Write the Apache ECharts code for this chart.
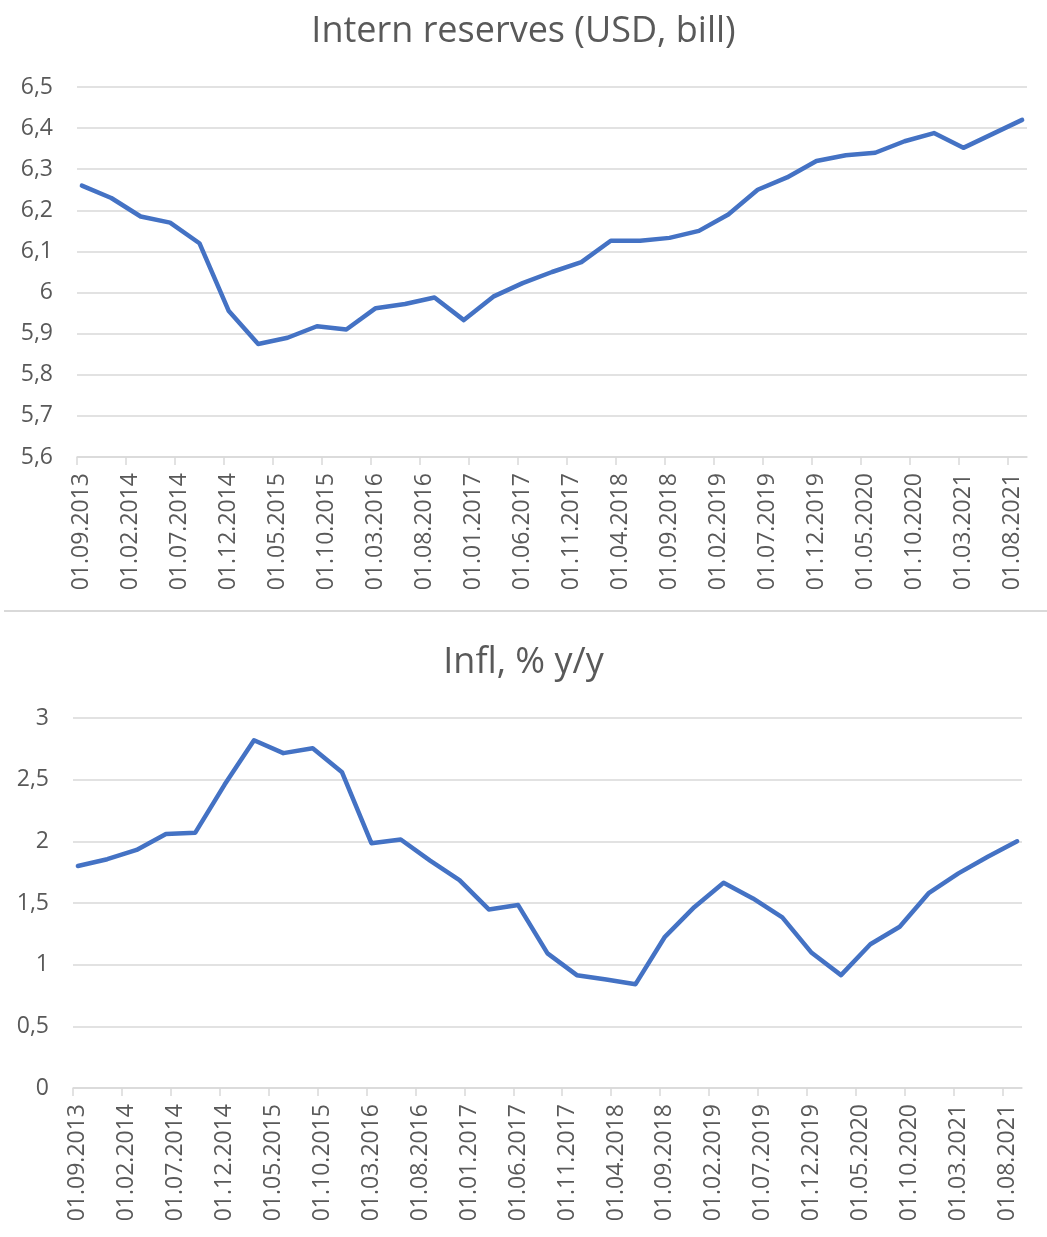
<!DOCTYPE html>
<html>
<head>
<meta charset="utf-8">
<script src="https://cdn.jsdelivr.net/npm/echarts@6/dist/echarts.min.js"></script>
<style>
html,body{margin:0;padding:0;background:#fff;}
#chart{width:1047px;height:1237px;}
</style>
</head>
<body>
<div id="chart"></div>
<script>
// Quarterly observation dates (shared by both series)
const dates = [
  '01.09.2013','01.12.2013',
  '01.03.2014','01.06.2014','01.09.2014','01.12.2014',
  '01.03.2015','01.06.2015','01.09.2015','01.12.2015',
  '01.03.2016','01.06.2016','01.09.2016','01.12.2016',
  '01.03.2017','01.06.2017','01.09.2017','01.12.2017',
  '01.03.2018','01.06.2018','01.09.2018','01.12.2018',
  '01.03.2019','01.06.2019','01.09.2019','01.12.2019',
  '01.03.2020','01.06.2020','01.09.2020','01.12.2020',
  '01.03.2021','01.06.2021','01.09.2021'
];
// International reserves, USD bn
const reserves = [6.26,6.23,6.185,6.17,6.12,5.955,5.875,5.89,5.918,5.91,5.962,5.972,5.988,5.933,5.99,6.023,6.05,6.074,6.126,6.126,6.133,6.15,6.19,6.25,6.28,6.32,6.334,6.34,6.368,6.388,6.352,6.386,6.42];
// Inflation, % y/y
const inflation = [1.80,1.855,1.93,2.06,2.07,2.46,2.82,2.715,2.755,2.56,1.985,2.015,1.843,1.686,1.448,1.483,1.092,0.915,0.88,0.842,1.226,1.466,1.664,1.537,1.383,1.096,0.915,1.166,1.307,1.583,1.74,1.875,2.0];

const titles = ['Intern reserves (USD, bill)', 'Infl, % y/y'];
const axisStart = {month: 9, year: 2013};
const axisEnd = {month: 9, year: 2021};
const labelEvery = 5; // months between date labels / ticks

// Monthly date axis (like Excel's date axis, base unit = month)
const months = [];
{
  let m = axisStart.month, y = axisStart.year;
  while (y < axisEnd.year || (y === axisEnd.year && m <= axisEnd.month)) {
    months.push('01.' + String(m).padStart(2, '0') + '.' + y);
    m++; if (m > 12) { m = 1; y++; }
  }
}
const nMonths = months.length;
const lastTickMonth = Math.floor((nMonths - 1) / labelEvery) * labelEvery;

const FONT = '"Open Sans", "Noto Sans", sans-serif';
const GREY = '#595959';
const GRID = '#d9d9d9';
const BLUE = '#4472C4';

const fmt = v => String(parseFloat(Number(v).toFixed(2))).replace('.', ',');

const gridsLayout = [
  {left: 77, right: 20, top: 87, height: 370},
  {left: 73, right: 25, top: 718, height: 370}
];
const W = 1047;

function xAxis(gridIndex) {
  return {
    type: 'category', gridIndex, data: months, boundaryGap: true,
    axisLine: {lineStyle: {color: GRID, width: 1.5}},
    axisTick: {show: false},
    axisLabel: {interval: labelEvery - 1, rotate: 90, margin: 16, fontSize: 23, color: GREY, fontFamily: FONT},
    splitLine: {show: false}
  };
}
// tick-only axis: month boundaries every 5 months
function tickAxis(gridIndex) {
  return {
    type: 'value', gridIndex, min: 0, max: lastTickMonth, interval: labelEvery,
    axisLine: {show: false},
    axisTick: {show: true, length: 8, lineStyle: {color: GRID, width: 1.5}},
    axisLabel: {show: false}, splitLine: {show: false}
  };
}
function yAxis(gridIndex, min, max, interval, show) {
  return {
    type: 'value', gridIndex, min, max, interval, show,
    axisLine: {show: false}, axisTick: {show: false},
    axisLabel: {fontSize: 23, color: GREY, fontFamily: FONT, margin: 24, formatter: fmt},
    splitLine: {lineStyle: {color: GRID, width: 1.5}}
  };
}
function series(i, values) {
  return {
    type: 'line', xAxisIndex: i, yAxisIndex: i,
    data: dates.map((d, k) => [d, values[k]]),
    symbol: 'none', smooth: false, animation: false,
    lineStyle: {color: BLUE, width: 4.5, join: 'round', cap: 'round'}
  };
}

const grids = gridsLayout.slice();
gridsLayout.forEach(g => {
  const width = W - g.left - g.right;
  grids.push({left: g.left, top: g.top, height: g.height, width: width * lastTickMonth / nMonths});
});

const chart = echarts.init(document.getElementById('chart'), null, {renderer: 'canvas'});
chart.setOption({
  backgroundColor: '#fff',
  animation: false,
  title: [
    {text: titles[0], left: 'center', top: 9, textStyle: {fontSize: 36, fontWeight: 'normal', color: GREY, fontFamily: FONT}},
    {text: titles[1], left: 'center', top: 640, textStyle: {fontSize: 36, fontWeight: 'normal', color: GREY, fontFamily: FONT}}
  ],
  grid: grids,
  xAxis: [xAxis(0), xAxis(1), tickAxis(2), tickAxis(3)],
  yAxis: [yAxis(0, 5.6, 6.5, 0.1, true), yAxis(1, 0, 3, 0.5, true), yAxis(2, 0, 1, 1, false), yAxis(3, 0, 1, 1, false)],
  series: [series(0, reserves), series(1, inflation)],
  graphic: [{
    type: 'line', shape: {x1: 4, y1: 611, x2: 1047, y2: 611},
    style: {stroke: GRID, lineWidth: 2}
  }]
});
</script>
</body>
</html>
